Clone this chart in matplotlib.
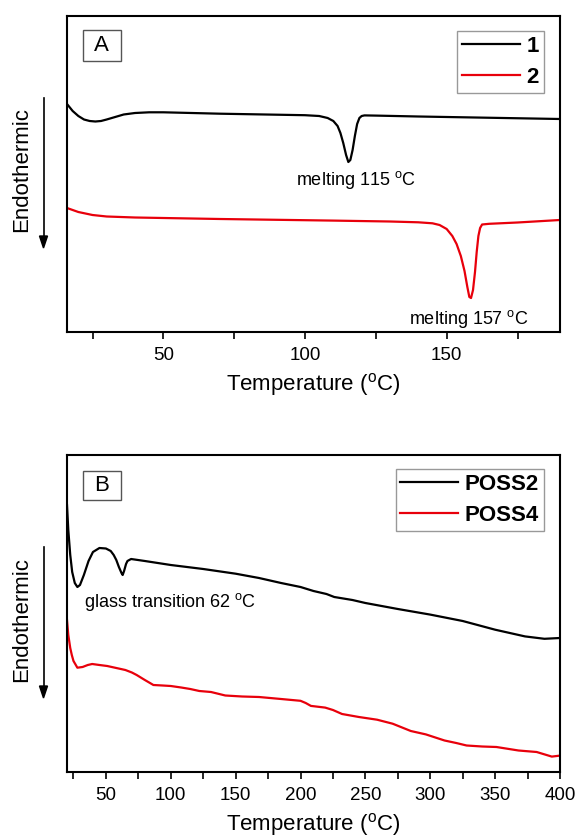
import numpy as np
import matplotlib
matplotlib.use("Agg")
import matplotlib.pyplot as plt
from matplotlib.patches import Rectangle

plt.rcParams['font.family'] = ['Liberation Sans', 'DejaVu Sans']
plt.rcParams['mathtext.fontset'] = 'custom'
plt.rcParams['mathtext.rm'] = 'Liberation Sans'

# panel A: DSC traces (signal, endo direction = larger value)
temp_1 = [16, 18, 20, 22, 24, 26, 28, 30, 33, 36, 40, 45, 50, 60, 70, 80, 90, 100, 105,
          108, 110, 111.5, 112.5, 113.5, 114.5, 115.3, 116, 116.8, 117.6, 118.4, 119.2,
          120, 121, 125, 140, 160, 180, 190]
sig_1 = [104, 111, 116, 119.5, 121, 121.5, 121, 119.5, 117, 114.5, 113, 112.3, 112.3, 113,
         113.7, 114.2, 114.7, 115.2, 116, 118, 121, 126, 133, 143, 155, 162, 160, 150, 136,
         124, 118, 116, 115.4, 115.6, 116.5, 117.5, 118.5, 119]
temp_2 = [16, 20, 25, 30, 40, 50, 70, 90, 110, 130, 140, 145, 147.5, 150, 152, 153.5, 155,
          156.3, 157.3, 158, 158.6, 159.3, 160, 160.6, 161.2, 161.8, 162.5, 165, 175, 190]
sig_2 = [208, 212, 215, 216.5, 217.5, 218, 219, 219.8, 220.6, 221.5, 222.3, 223.3, 225,
         229, 236, 244, 256, 271, 287, 297, 298, 290, 272, 252, 236, 228, 224.5, 223.8,
         222.5, 220]

# panel B
temp_p2 = [20, 21, 22.5, 24, 26, 28, 30, 33, 36.6, 40, 45, 50, 53.7, 56, 58, 60, 62, 62.9,
           64, 65.5, 66.6, 69.4, 80, 100, 125, 150, 168, 185, 200, 210, 220, 226, 240,
           250, 275, 300, 325, 350, 373, 388, 400]
sig_p2 = [505, 530, 555, 572, 583, 587, 585, 575, 561, 552, 548, 548.5, 551, 555, 560, 567,
          573, 575, 571, 564, 561, 559, 561, 565, 569, 573.7, 578, 583, 587, 591, 594,
          597, 600, 603, 609, 614.6, 621, 629.7, 636.4, 638.8, 638]
temp_p4 = [20, 21, 22.5, 23.7, 25, 28, 32, 36, 39.4, 45, 51, 58, 65, 70, 73.7, 80, 86.6,
           93.7, 100, 108, 115, 122, 131, 142, 155, 168, 185, 200, 204, 208, 219, 225,
           232, 245, 259, 271, 285, 296.6, 311, 320, 328, 340, 351, 368, 382, 393.7, 400]
sig_p4 = [620, 635, 648, 655, 661, 667.7, 667, 665, 664, 665, 666, 668, 670, 672.5, 675,
          680, 685, 685.5, 686, 687.5, 689, 691, 692, 695.5, 696.5, 697, 699, 700.8, 703,
          705.9, 707.6, 710, 714, 717, 719.7, 723.7, 731, 734.4, 740.5, 743, 745.5, 746.5,
          747, 750.5, 752, 756.6, 755.6]

W, H = 579, 839
fig = plt.figure(figsize=(W / 100, H / 100), dpi=100)


def px_axes(x0, y0, x1, y1):
    return fig.add_axes([x0 / W, 1 - y1 / H, (x1 - x0) / W, (y1 - y0) / H])


def style(ax, xlim, ylim, major, minor):
    ax.set_xlim(*xlim)
    ax.set_ylim(*ylim)
    ax.set_xticks(major)
    ax.set_xticks(minor, minor=True)
    ax.set_yticks([])
    for s in ax.spines.values():
        s.set_linewidth(1.5)
    ax.tick_params(axis='x', which='both', direction='out', length=5, width=1.2,
                   labelsize=13.5, pad=6, top=False)
    ax.set_xlabel(r'Temperature ($^{\mathrm{o}}$C)', fontsize=16, labelpad=5)


def tag(ax, letter, y0, y1):
    ax.add_patch(Rectangle((0.032, y0), 0.077, y1 - y0, transform=ax.transAxes,
                           fill=False, edgecolor='#555555', linewidth=1.0, zorder=5))
    ax.text(0.0705, (y0 + y1) / 2, letter, transform=ax.transAxes, ha='center',
            va='center', fontsize=16)


def legend(ax, anchor):
    leg = ax.legend(loc='upper right', bbox_to_anchor=anchor, borderaxespad=0,
                    frameon=True, fancybox=False, edgecolor='#808080', handlelength=2.6,
                    labelspacing=0.45, borderpad=0.22, handletextpad=0.3,
                    prop={'weight': 'bold', 'size': 16})
    leg.get_frame().set_linewidth(1.0)


def endo(ymid, ytop, ybot):
    fig.text(22 / W, 1 - ymid / H, 'Endothermic', rotation=90, ha='center',
             va='center', fontsize=16)
    fig.add_artist(plt.Line2D([43.5 / W, 43.5 / W], [1 - ytop / H, 1 - (ybot - 8) / H],
                              color='black', linewidth=1.2))
    fig.patches.append(plt.Polygon([[39.5 / W, 1 - (ybot - 12) / H], [47.5 / W, 1 - (ybot - 12) / H],
                                    [43.5 / W, 1 - ybot / H]], closed=True,
                                   transform=fig.transFigure, color='black'))


# ---- panel A
axA = px_axes(67, 16, 560, 332)
axA.plot(temp_1, sig_1, color='black', linewidth=1.6, label='1')
axA.plot(temp_2, sig_2, color='#e8000b', linewidth=1.6, label='2')
style(axA, (16, 190), (332, 16), [50, 100, 150], [25, 75, 125, 175])
tag(axA, 'A', 0.858, 0.956)
axA.text(118, 180, r'melting 115 $^{\mathrm{o}}$C', ha='center', va='center', fontsize=13)
axA.text(157.7, 319, r'melting 157 $^{\mathrm{o}}$C', ha='center', va='center', fontsize=13)
legend(axA, ((544 - 67) / 493, (332 - 31) / 316))
endo(170, 98, 248)

# ---- panel B
axB = px_axes(67, 455, 560, 772)
axB.plot(temp_p2, sig_p2, color='black', linewidth=1.6, label='POSS2')
axB.plot(temp_p4, sig_p4, color='#e8000b', linewidth=1.6, label='POSS4')
style(axB, (20, 400), (772, 455), [50, 100, 150, 200, 250, 300, 350, 400],
      [25, 75, 125, 175, 225, 275, 325, 375])
tag(axB, 'B', 0.857, 0.951)
axB.text(99.4, 602, r'glass transition 62 $^{\mathrm{o}}$C', ha='center', va='center',
         fontsize=13)
legend(axB, ((544 - 67) / 493, (772 - 469) / 317))
endo(620, 547, 698)

fig.savefig('out.png', dpi=100)
